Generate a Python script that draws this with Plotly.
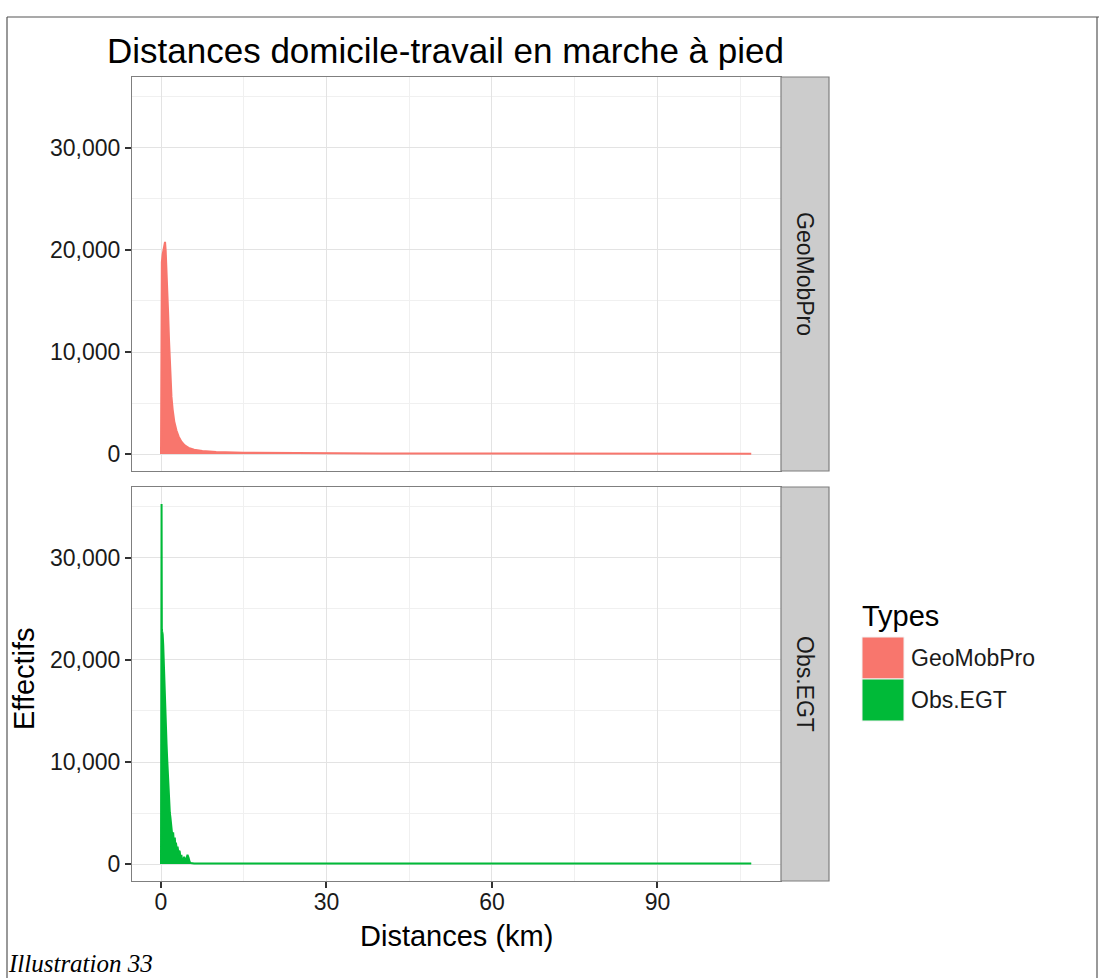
import plotly.graph_objects as go

# ---------------- data ----------------
types = ["GeoMobPro", "Obs.EGT"]
colors = {"GeoMobPro": "#F8766D", "Obs.EGT": "#00BA38"}

geo_dist = [0, 0.05, 0.15, 0.3, 0.45, 0.6, 0.73, 0.85, 1.0, 1.15, 1.3, 1.45, 1.6, 1.75,
            1.9, 2.1, 2.4, 2.8, 3.2, 3.7, 4.3, 5.0, 6.0, 7.5, 10, 15, 25, 40, 60, 80, 100, 107]
geo_count = [0, 17500, 18800, 19600, 20200, 20600, 20800, 19900, 18300, 16200, 13700, 11200, 8900, 7000,
             5600, 4400, 3200, 2300, 1700, 1200, 850, 600, 420, 300, 200, 130, 80, 60, 50, 40, 30, 20]

egt_dist = [0, 0.05, 0.1, 0.15, 0.2, 0.3, 0.4, 0.5, 0.6, 0.7, 0.8, 0.9, 1.0, 1.1, 1.2, 1.3, 1.4, 1.5,
            1.6, 1.7, 1.8, 1.9, 2.0, 2.1, 2.2, 2.3, 2.4, 2.5, 2.6, 2.7, 2.8, 2.9, 3.0, 3.1, 3.2, 3.3,
            3.4, 3.5, 3.6, 3.7, 3.8, 3.9, 4.0, 4.2, 4.4, 4.6, 4.8, 5.0, 5.2, 5.4, 6, 20, 50, 80, 107]
egt_count = [0, 23000, 35300, 23000, 22800, 22500, 21500, 19500, 18300, 17200, 15600, 13800, 11800, 10500,
             9200, 8400, 7200, 6200, 5000, 4600, 3800, 3500, 3000, 2600, 3100, 2300, 2000, 2600, 1700,
             2100, 1500, 1300, 1700, 1100, 900, 1300, 1200, 700, 500, 900, 400, 600, 300, 700, 300, 500,
             900, 600, 200, 100, 60, 60, 60, 60, 60]

x_ticks = [0, 30, 60, 90]
y_ticks = [0, 10000, 20000, 30000]
y_ticklabels = ["0", "10,000", "20,000", "30,000"]

title = "Distances domicile-travail en marche à pied"
x_title = "Distances (km)"
y_title = "Effectifs"
legend_title = "Types"
caption = "Illustration 33"

# ---------------- geometry (pixels) ----------------
W, H = 1099, 978
PX0, PX1 = 132, 781
P1 = (77, 471)
P2 = (487, 881)
SX0, SX1 = 781, 829


def px(x):
    return x / W


def py(y):
    return 1 - y / H


FONT = "Liberation Sans, Arial, Helvetica, sans-serif"
TXT = "#1a1a1a"

fig = go.Figure()
fig.add_trace(go.Scatter(x=geo_dist, y=geo_count, mode="lines", fill="tozeroy",
                         fillcolor=colors["GeoMobPro"], line=dict(color=colors["GeoMobPro"], width=2),
                         name="GeoMobPro", xaxis="x", yaxis="y", showlegend=False))
fig.add_trace(go.Scatter(x=egt_dist, y=egt_count, mode="lines", fill="tozeroy",
                         fillcolor=colors["Obs.EGT"], line=dict(color=colors["Obs.EGT"], width=2),
                         name="Obs.EGT", xaxis="x2", yaxis="y2", showlegend=False))

xr = [-5.26, 112.4]
yr = [-1667, 36960]
grid_major = "#E3E3E3"
grid_minor = "#F0F0F0"

common_x = dict(domain=[px(PX0), px(PX1)], range=xr, tickvals=x_ticks, showgrid=True,
                gridcolor=grid_major, gridwidth=1.2, zeroline=False, showline=True,
                linecolor="#7F7F7F", linewidth=1.2, mirror=True,
                minor=dict(tickvals=[15, 45, 75, 105], showgrid=True, gridcolor=grid_minor, gridwidth=1),
                tickfont=dict(family=FONT, size=23, color=TXT))
common_y = dict(range=yr, tickvals=y_ticks, ticktext=y_ticklabels, showgrid=True,
                gridcolor=grid_major, gridwidth=1.2, zeroline=False, showline=True,
                linecolor="#7F7F7F", linewidth=1.2, mirror=True, ticks="outside", ticklen=6,
                tickwidth=2, tickcolor="#333333",
                minor=dict(tickvals=[5000, 15000, 25000, 35000], showgrid=True, gridcolor=grid_minor,
                           gridwidth=1),
                tickfont=dict(family=FONT, size=23, color=TXT))

fig.update_layout(
    width=W, height=H, margin=dict(l=0, r=0, t=0, b=0),
    paper_bgcolor="white", plot_bgcolor="white", showlegend=False,
    xaxis=dict(common_x, anchor="y", showticklabels=False, ticks=""),
    yaxis=dict(common_y, domain=[py(P1[1]), py(P1[0])], anchor="x"),
    xaxis2=dict(common_x, anchor="y2", ticks="outside", ticklen=6, tickwidth=2, tickcolor="#333333",
                ticklabelstandoff=-6),
    yaxis2=dict(common_y, domain=[py(P2[1]), py(P2[0])], anchor="x2"),
)

shapes = []
annotations = []
# strips
for (top, bot), lab in zip([P1, P2], types):
    shapes.append(dict(type="rect", xref="paper", yref="paper", x0=px(SX0), x1=px(SX1),
                       y0=py(bot), y1=py(top), fillcolor="#CCCCCC", line=dict(color="#7F7F7F", width=1.2)))
    annotations.append(dict(text=lab, xref="paper", yref="paper", x=px((SX0 + SX1) / 2),
                            y=py((top + bot) / 2), showarrow=False, textangle=90,
                            xanchor="center", yanchor="middle",
                            font=dict(family=FONT, size=23, color=TXT)))

# titles
annotations.append(dict(text=title, xref="paper", yref="paper", x=px(105), y=py(50),
                        xanchor="left", yanchor="middle", showarrow=False,
                        font=dict(family=FONT, size=35, color="black")))
annotations.append(dict(text=x_title, xref="paper", yref="paper", x=px((PX0 + PX1) / 2), y=py(936),
                        xanchor="center", yanchor="middle", showarrow=False,
                        font=dict(family=FONT, size=29, color="black")))
annotations.append(dict(text=y_title, xref="paper", yref="paper", x=px(24), y=py(679),
                        xanchor="center", yanchor="middle", showarrow=False, textangle=-90,
                        font=dict(family=FONT, size=29, color="black")))

# legend (drawn)
annotations.append(dict(text=legend_title, xref="paper", yref="paper", x=px(860), y=py(616),
                        xanchor="left", yanchor="middle", showarrow=False,
                        font=dict(family=FONT, size=29, color="black")))
for i, t in enumerate(types):
    y0 = 637 + i * 42
    shapes.append(dict(type="rect", xref="paper", yref="paper", x0=px(862), x1=px(904),
                       y0=py(y0 + 42), y1=py(y0), fillcolor=colors[t], line=dict(color="#F2F2F2", width=1)))
    annotations.append(dict(text=t, xref="paper", yref="paper", x=px(909), y=py(y0 + 21),
                            xanchor="left", yanchor="middle", showarrow=False,
                            font=dict(family=FONT, size=23, color=TXT)))

# caption and frame
annotations.append(dict(text="<i>" + caption + "</i>", xref="paper", yref="paper", x=px(6), y=py(963),
                        xanchor="left", yanchor="middle", showarrow=False,
                        font=dict(family="Liberation Serif, Times New Roman, serif", size=25, color="black")))
for (x0, y0, x1, y1) in [(7, 17, 1099, 17), (7, 17, 7, 978), (1097, 17, 1097, 978)]:
    shapes.append(dict(type="line", xref="paper", yref="paper", x0=px(x0), y0=py(y0), x1=px(x1), y1=py(y1),
                       line=dict(color="#555555", width=1.2)))

fig.update_layout(shapes=shapes, annotations=annotations)
fig.write_html("out.html", config={"displayModeBar": False},
               post_script="document.body.style.margin='0';document.body.style.overflow='hidden';")
